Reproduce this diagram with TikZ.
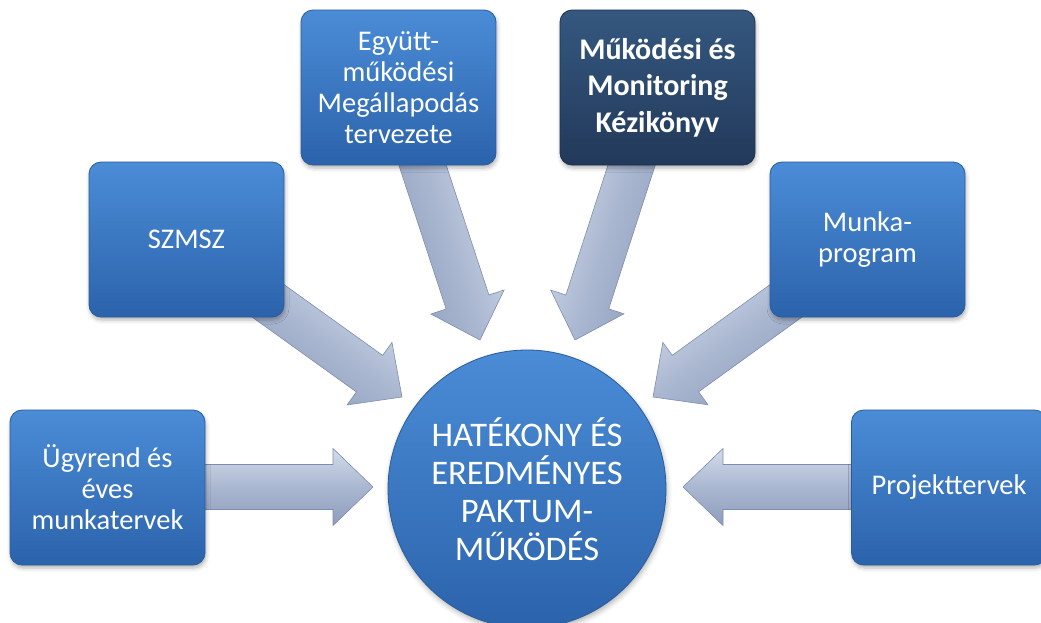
\documentclass[tikz,border=0pt]{standalone}
\usepackage{fontspec}
\setmainfont{Carlito}
\usetikzlibrary{calc,shadows.blur}
\definecolor{boxtop}{HTML}{4B8CD7}
\definecolor{boxbot}{HTML}{2B63AB}
\definecolor{boxline}{HTML}{2A5C9C}
\definecolor{darktop}{HTML}{35587F}
\definecolor{darkbot}{HTML}{22395A}
\definecolor{darkline}{HTML}{1C3050}
\definecolor{arrtop}{HTML}{D3DCEC}
\definecolor{arrmid}{HTML}{AAB7D0}
\definecolor{arrbot}{HTML}{8E9DBD}
\definecolor{arrline}{HTML}{7D8DAE}
\newcommand\blockarrow[2]{%
  \pgfmathanglebetweenpoints{\pgfpointanchor{#1}{center}}{\pgfpointanchor{#2}{center}}%
  \pgfmathparse{(\pgfmathresult>90 && \pgfmathresult<270) ? \pgfmathresult-180 : \pgfmathresult}%
  \let\arrang\pgfmathresult
  \coordinate (hb) at ($(#2)!40pt!(#1)$);
  \path[arrowshape, shading angle=\arrang]
    ($(#1)!22.5pt!90:(#2)$) -- ($(hb)!22.5pt!90:(#2)$) -- ($(hb)!38.5pt!90:(#2)$)
    -- (#2) -- ($(hb)!38.5pt!-90:(#2)$) -- ($(hb)!22.5pt!-90:(#2)$)
    -- ($(#1)!22.5pt!-90:(#2)$) -- cycle;}
\begin{document}
\begin{tikzpicture}[x=1pt,y=-1pt,
  arrowshape/.style={top color=arrtop, bottom color=arrbot, middle color=arrmid, draw=arrline, line width=0.6pt, line join=miter},
  infobox/.style={rectangle, rounded corners=12pt, minimum width=195pt, minimum height=155pt,
    top color=boxtop, bottom color=boxbot, draw=boxline, line width=0.8pt, text=white, align=center,
    font=\fontsize{28.5}{31}\selectfont,
    blur shadow={shadow xshift=1pt, shadow yshift=-3pt, shadow blur radius=4pt, shadow opacity=30}},
  darkbox/.style={infobox, top color=darktop, bottom color=darkbot, draw=darkline,
    font=\fontsize{30}{36.5}\selectfont\bfseries},
  hub/.style={circle, minimum size=278pt, inner sep=0pt, top color=boxtop, bottom color=boxbot,
    draw=boxline, line width=0.8pt, text=white, align=center, font=\fontsize{34.5}{38}\selectfont,
    blur shadow={shadow xshift=1pt, shadow yshift=-3pt, shadow blur radius=5pt, shadow opacity=30}}]
\useasboundingbox (0,0) rectangle (1041,622);
\clip (0,0) rectangle (1041,622);
% anchor points of the arrows
\coordinate (s1) at (195,487);   \coordinate (t1) at (373,487);
\coordinate (s2) at (253,290);   \coordinate (t2) at (402,397);
\coordinate (s3) at (412,133);   \coordinate (t3) at (480,340);
\coordinate (s4) at (642,133);   \coordinate (t4) at (575,340);
\coordinate (s5) at (801,290);   \coordinate (t5) at (653,397);
\coordinate (s6) at (860,487);   \coordinate (t6) at (683,487);
\blockarrow{s1}{t1}
\blockarrow{s2}{t2}
\blockarrow{s3}{t3}
\blockarrow{s4}{t4}
\blockarrow{s5}{t5}
\blockarrow{s6}{t6}
% boxes
\node[infobox] (u)   at (107.5,487.5) {Ügyrend és\\éves\\munkatervek};
\node[infobox] (sz)  at (186.5,239.5) {SZMSZ};
\node[infobox] (egy) at (398.5,87.5)  {Együtt-\\működési\\Megállapodás\\tervezete};
\node[darkbox] (mk)  at (657.5,87.5)  {Működési és\\Monitoring\\Kézikönyv};
\node[infobox] (mp)  at (867.5,239.5) {Munka-\\program};
\node[infobox] (pr)  at (949,487.5)   {Projekttervek};
% hub
\node[hub] (c) at (527,489) {HATÉKONY ÉS\\EREDMÉNYES\\PAKTUM-\\MŰKÖDÉS};
\end{tikzpicture}
\end{document}
